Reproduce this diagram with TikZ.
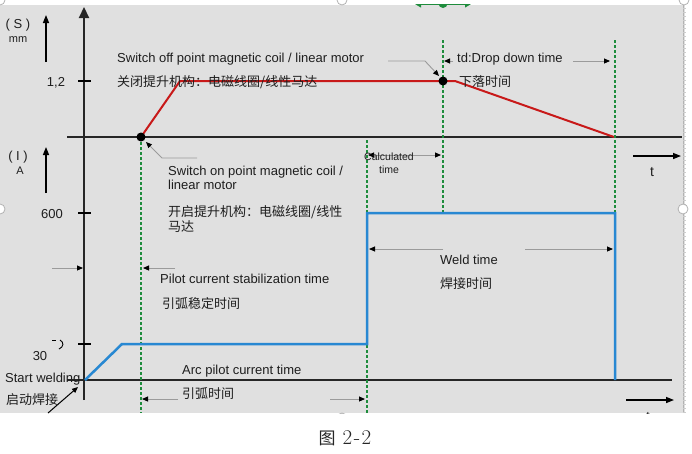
\documentclass[tikz,border=0pt]{standalone}
\usepackage{fontspec}
\newfontfamily\sansf{Liberation Sans}
\newfontfamily\cjk{Noto Sans CJK SC}
\usetikzlibrary{arrows.meta}
\definecolor{bgc}{RGB}{224,224,224}
\definecolor{grn}{RGB}{30,140,60}
\definecolor{redc}{RGB}{200,25,25}
\definecolor{bluec}{RGB}{40,136,210}
\definecolor{txtc}{RGB}{30,30,30}
\definecolor{leadc}{RGB}{155,155,155}
\begin{document}
\begin{tikzpicture}[x=1pt,y=-1pt,
  axisl/.style={line width=2.2pt, draw=black!85},
  tickm/.style={line width=2pt, draw=black},
  gdash/.style={draw=grn, line width=2.2pt, dash pattern=on 3pt off 2pt},
  redl/.style={draw=redc, line width=2pt, line join=round},
  bluel/.style={draw=bluec, line width=2.5pt},
  lead/.style={draw=leadc, line width=0.9pt},
  tipb/.style={-{Triangle[length=6pt,width=5pt,color=black]}},
  tipbb/.style={{Triangle[length=6pt,width=5pt,color=black]}-{Triangle[length=6pt,width=5pt,color=black]}},
  smallarr/.style={line width=1.4pt, draw=black, -{Triangle[length=8pt,width=6pt]}},
  en/.style={font=\sansf\fontsize{13}{15}\selectfont, text=txtc, anchor=base west, inner sep=0pt},
  zh/.style={font=\cjk\fontsize{13}{15}\selectfont, text=txtc, anchor=base west, inner sep=0pt},
  lab/.style={font=\sansf\fontsize{13}{15}\selectfont, text=txtc, anchor=base, inner sep=0pt},
  labs/.style={font=\sansf\fontsize{11}{13}\selectfont, text=txtc, anchor=base, inner sep=0pt},
  calcs/.style={font=\sansf\fontsize{10.5}{13}\selectfont, text=txtc, align=center, inner sep=0pt},
  handle/.style={draw=gray!60, fill=white, line width=0.8pt},
  dotb/.style={fill=black}]
\useasboundingbox (0,0) rectangle (692,453);
% background
\fill[bgc] (0,4.5) rectangle (685,413);
% right ruler
\draw[gray!60, line width=0.8pt] (683,0) -- (683,413);
\foreach \yy in {8,12,...,412} \draw[gray!40, line width=0.3pt] (683,\yy) -- (686,\yy);
% handles
\draw[handle] (342,0) circle (5);
\draw[handle] (684,0) circle (5);
\draw[handle] (0,0) circle (5);
\draw[handle] (0,209) circle (5);
\draw[handle] (683,209) circle (5);
% green artifacts at top
\begin{scope}
\clip (380,4) rectangle (500,12);
\coordinate (ga) at (415,4); \coordinate (gb) at (471,4);
\draw[grn, line width=1pt, {Triangle[length=6pt,width=7pt]}-{Triangle[length=6pt,width=7pt]}] (ga) -- (gb);
\fill[grn] (443,3.5) circle (4.5);
\end{scope}
% axes
\coordinate (vb) at (84,400); \coordinate (vt) at (84,7);
\draw[axisl, -{Triangle[length=11pt,width=10pt]}] (vb) -- (vt);
\coordinate (h1a) at (67,137); \coordinate (h1b) at (682,137);
\draw[axisl] (h1a) -- (h1b);
\coordinate (h2a) at (67,380); \coordinate (h2b) at (672,380);
\draw[axisl] (h2a) -- (h2b);
% ticks
\draw[tickm] (78,81) -- (91,81);
\draw[tickm] (78,213) -- (91,213);
\draw[tickm] (78,344) -- (91,344);
% small axis arrows
\coordinate (sa1) at (46,62); \coordinate (sa2) at (46,15);
\draw[smallarr] (sa1) -- (sa2);
\coordinate (sb1) at (46,193); \coordinate (sb2) at (46,147);
\draw[smallarr] (sb1) -- (sb2);
\coordinate (ta1) at (633,156); \coordinate (ta2) at (681,156);
\draw[smallarr] (ta1) -- (ta2);
\coordinate (tb1) at (626,400); \coordinate (tb2) at (674,400);
\draw[smallarr] (tb1) -- (tb2);
% axis labels
\node[lab] (S) at (18,28) {( S )};
\node[labs] (mm) at (18,42) {mm};
\node[lab] (I) at (18,160) {( I )};
\node[labs] (A) at (20,174) {A};
\node[lab] (v12) at (56,86) {1,2};
\node[lab] (v600) at (52,218) {600};
\node[lab] (v30) at (40,360) {30};
\node[font=\sansf\fontsize{14}{16}\selectfont, text=txtc, anchor=base, inner sep=0pt] (t1) at (652,176) {t};
\begin{scope}
\clip (0,4.5) rectangle (685,413);
\node[font=\sansf\fontsize{14}{16}\selectfont, text=txtc, anchor=base, inner sep=0pt] (t2) at (648,421) {t};
\draw[handle] (342,418) circle (5);
\end{scope}
% artifact near 30
\draw[black, line width=0.9pt] (52,340.5) -- (55.5,340.5);
\draw[black, line width=0.9pt] (60,340) .. controls (64,342) and (64,347) .. (59,349);
% green dashed lines
\coordinate (g1t) at (141,137); \coordinate (g1b) at (141,413);
\coordinate (g2t) at (367,140); \coordinate (g2b) at (367,413);
\coordinate (g3t) at (443,40); \coordinate (g3b) at (443,213);
\coordinate (g4t) at (615,40); \coordinate (g4b) at (615,213);
% red line
\coordinate (r0) at (141,137); \coordinate (r1) at (180,81);
\coordinate (r2) at (455,81); \coordinate (r3) at (614,137);
\draw[redl] (r0) -- (r1) -- (r2) -- (r3);
% blue line
\coordinate (b0) at (85,380); \coordinate (b1) at (122,344);
\coordinate (b2) at (367,344); \coordinate (b3) at (367,213);
\coordinate (b4) at (615,213); \coordinate (b5) at (615,380);
\draw[gdash] (g1t) -- (g1b);
\draw[gdash] (g2t) -- (g2b);
\draw[gdash] (g3t) -- (g3b);
\draw[gdash] (g4t) -- (g4b);
\draw[bluel] (b0) -- (b1) -- (b2) -- (b3) -- (b4) -- (b5);
% dots
\fill[dotb] (r0) circle (4.5);
\fill[dotb] (443,81) circle (4.5);
% leaders
\coordinate (offA) at (388,61); \coordinate (offB) at (425,61); \coordinate (offT) at (439,76);
\draw[lead, tipb] (offA) -- (offB) -- (offT);
\coordinate (tdL0) at (453,61); \coordinate (tdL) at (444,61);
\draw[lead, tipb] (tdL0) -- (tdL);
\coordinate (tdR0) at (573,61); \coordinate (tdR) at (610,61);
\draw[lead, tipb] (tdR0) -- (tdR);
\coordinate (onA) at (197,158); \coordinate (onB) at (162,158); \coordinate (onT) at (146,142);
\draw[lead, tipb] (onA) -- (onB) -- (onT);
\coordinate (plL0) at (52,268); \coordinate (plL) at (83,268);
\draw[lead, tipb] (plL0) -- (plL);
\coordinate (plR0) at (175,268); \coordinate (plR) at (143,268);
\draw[lead, tipb] (plR0) -- (plR);
\coordinate (caL) at (368,155); \coordinate (caR) at (441,155);
\draw[lead, tipbb] (caL) -- (caR);
\coordinate (wL0) at (443,249); \coordinate (wL) at (369,249);
\draw[lead, tipb] (wL0) -- (wL);
\coordinate (wR0) at (525,249); \coordinate (wR) at (613,249);
\draw[lead, tipb] (wR0) -- (wR);
\coordinate (apL0) at (178,399); \coordinate (apL) at (142,399);
\draw[lead, tipb] (apL0) -- (apL);
\coordinate (apR0) at (330,399); \coordinate (apR) at (365,399);
\draw[lead, tipb] (apR0) -- (apR);
\coordinate (swA) at (48,413); \coordinate (swT) at (78,387);
\draw[black, line width=1pt, -{Triangle[length=6pt,width=5pt]}] (swA) -- (swT);
% texts
\node[en] (offE) at (117,62.5) {Switch off point magnetic coil / linear motor};
\node[zh] (offZ) at (117,86) {关闭提升机构：电磁线圈/线性马达};
\node[en] (tdE) at (457,62) {td:Drop down time};
\node[zh] (tdZ) at (459,86) {下落时间};
\node[en] (onE1) at (168,175) {Switch on point magnetic coil /};
\node[en] (onE2) at (168,189) {linear motor};
\node[zh] (onZ1) at (168,216) {开启提升机构：电磁线圈/线性};
\node[zh] (onZ2) at (168,231) {马达};
\node[en] (pilE) at (160,283) {Pilot current stabilization time};
\node[zh] (pilZ) at (162,308) {引弧稳定时间};
\node[en] (arcE) at (182,374) {Arc pilot current time};
\node[zh] (arcZ) at (182,398) {引弧时间};
\node[en] (wE) at (440,264) {Weld time};
\node[zh] (wZ) at (440,288) {焊接时间};
\node[calcs] (calc) at (389,163) {Calculated\\time};
\node[en] (sw) at (5,382.5) {Start welding};
\node[zh] (swZ) at (6,404) {启动焊接};
% caption
\node[inner sep=0pt, text=black!85, anchor=base] (cap) at (345,444) {{\cjk\fontsize{17}{20}\selectfont 图}\hspace{7pt}{\rmfamily\fontsize{21}{22}\selectfont 2\kern1.5pt-\kern1.5pt2}};
\end{tikzpicture}
\end{document}
